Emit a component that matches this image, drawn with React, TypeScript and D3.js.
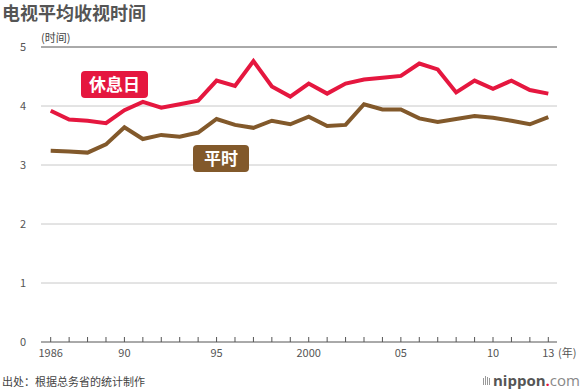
import React from "react";
import * as d3 from "d3";

const years = d3.range(1986, 2014);
const holiday = [3.92, 3.77, 3.75, 3.71, 3.93, 4.07, 3.97, 4.03, 4.09, 4.43, 4.34, 4.76, 4.33, 4.16, 4.38, 4.21, 4.38, 4.45, 4.48, 4.51, 4.72, 4.62, 4.23, 4.43, 4.29, 4.43, 4.27, 4.21];
const weekday = [3.24, 3.23, 3.21, 3.35, 3.64, 3.44, 3.51, 3.48, 3.55, 3.78, 3.68, 3.63, 3.75, 3.69, 3.82, 3.66, 3.68, 4.03, 3.94, 3.94, 3.79, 3.73, 3.78, 3.83, 3.8, 3.75, 3.69, 3.81];
const yTicks = [0, 1, 2, 3, 4, 5];
const xLabelYears = [1986, 1990, 1995, 2000, 2005, 2010, 2013];
const xLabelText = ["1986", "90", "95", "2000", "05", "10", "13"];

const RED = "#e5173f";
const BROWN = "#82592b";
const FONT = "'Noto Sans CJK SC', 'Noto Sans', sans-serif";

export default function App() {
  const W = 584, H = 390;
  const x = d3.scaleLinear().domain([1986, 2013]).range([50.7, 548.3]);
  const y = d3.scaleLinear().domain([0, 5]).range([342, 47]);
  const gx0 = 41, gx1 = 557;
  const line = d3.line<number>().x((_, i) => x(years[i])).y((d) => y(d));

  return (
    <div style={{ position: "absolute", left: 0, top: 0 }}>
      <svg width={W} height={H} style={{ display: "block", fontFamily: FONT }}>
        <rect width={W} height={H} fill="#fff" />
        <text x={2} y={20} fontSize={18} fontWeight="bold" fill="#555">电视平均收视时间</text>
        <text x={41} y={42} fontSize={11} fill="#444">(时间)</text>
        {yTicks.map((t) => (
          <g key={t}>
            <line x1={gx0} x2={gx1} y1={y(t)} y2={y(t)}
              stroke={t === 0 || t === 5 ? "#555" : "#c8c8c8"} strokeWidth={1} />
            <text x={23} y={y(t) + 4} fontSize={11} fill="#555" textAnchor="middle">{t}</text>
          </g>
        ))}
        {years.map((yr) => (
          <line key={yr} x1={x(yr)} x2={x(yr)} y1={y(0)} y2={y(0) - 5} stroke="#555" strokeWidth={1} />
        ))}
        {xLabelYears.map((yr, i) => (
          <text key={yr} x={x(yr)} y={357} fontSize={11} fill="#555" textAnchor="middle">{xLabelText[i]}</text>
        ))}
        <text x={558} y={357} fontSize={11} fill="#555">(年)</text>
        <path d={line(weekday) || ""} fill="none" stroke={BROWN} strokeWidth={4} strokeLinejoin="miter" />
        <path d={line(holiday) || ""} fill="none" stroke={RED} strokeWidth={4} strokeLinejoin="miter" />
        <rect x={81} y={71} width={67} height={27} rx={4} fill={RED} />
        <text x={114.5} y={91} fontSize={17} fontWeight="bold" fill="#fff" textAnchor="middle">休息日</text>
        <rect x={193} y={145} width={56} height={27} rx={4} fill={BROWN} />
        <text x={221} y={165} fontSize={17} fontWeight="bold" fill="#fff" textAnchor="middle">平时</text>
        <text x={2} y={386} fontSize={11} fill="#444">出处：根据总务省的统计制作</text>
        <g fill="#999">
          <rect x={483} y={378} width={1} height={7} />
          <rect x={485} y={376} width={1} height={9} />
          <rect x={487} y={377} width={1} height={8} />
          <rect x={489} y={378} width={1} height={7} />
        </g>
        <text x={493} y={386} fontSize={15} fontFamily="'Open Sans', sans-serif">
          <tspan fontWeight="bold" fill="#555">nippon</tspan>
          <tspan fontWeight="bold" fill={RED}>.</tspan>
          <tspan fill="#888">com</tspan>
        </text>
      </svg>
    </div>
  );
}
